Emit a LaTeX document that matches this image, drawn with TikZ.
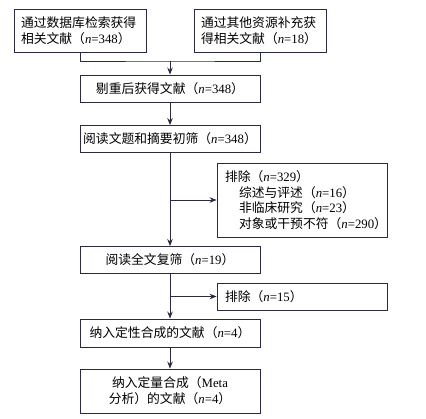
\documentclass[tikz,border=0pt]{standalone}
\usepackage{fontspec}
\setmainfont{Liberation Serif}
\newfontfamily\cjk{Noto Sans CJK SC}
\usetikzlibrary{arrows.meta}
\newcommand\nv[1]{\textit{n}=#1}
\definecolor{lc}{HTML}{2A2A40}
\begin{document}
\begin{tikzpicture}[x=1pt,y=1pt,
  box/.style={draw=lc,line width=0.9pt,inner sep=0pt,minimum width=180pt,minimum height=27pt,font=\fontsize{12.8}{16}\selectfont,align=center},
  conn/.style={draw=lc,line width=0.9pt},
  arr/.style={conn,-{Stealth[length=7pt,width=5.5pt]}}]
\useasboundingbox (0,0) rectangle (426,-418);
\node[box,minimum width=132pt,minimum height=43pt,align=left,text width=118pt] (b1) at (80,-30.5)
  {{\cjk 通过数据库检索获得}\\{\cjk 相关文献（}\nv{348}{\cjk ）}};
\node[box,minimum width=132pt,minimum height=43pt,align=left,text width=118pt] (b2) at (260,-30.5)
  {{\cjk 通过其他资源补充获}\\{\cjk 得相关文献（}\nv{18}{\cjk ）}};
\node[box] (b3) at (170,-88.5) {{\cjk 剔重后获得文献（}\nv{348}{\cjk ）}};
\node[box] (b4) at (170,-139) {{\cjk 阅读文题和摘要初筛（}\nv{348}{\cjk ）}};
\node[box,minimum width=170pt,minimum height=74pt,align=left,text width=154pt,font=\fontsize{12.8}{15.5}\selectfont] (e1) at (302,-200)
  {{\cjk 排除（}\nv{329}{\cjk ）}\\
   \hspace*{14pt}{\cjk 综述与评述（}\nv{16}{\cjk ）}\\
   \hspace*{14pt}{\cjk 非临床研究（}\nv{23}{\cjk ）}\\
   \hspace*{14pt}{\cjk 对象或干预不符（}\nv{290}{\cjk ）}};
\node[box] (b5) at (170,-260) {{\cjk 阅读全文复筛（}\nv{19}{\cjk ）}};
\node[box,minimum width=170pt,align=left,text width=154pt] (e2) at (302,-296.5) {{\cjk 排除（}\nv{15}{\cjk ）}};
\node[box,minimum height=28pt] (b6) at (170,-333) {{\cjk 纳入定性合成的文献（}\nv{4}{\cjk ）}};
\node[box,minimum height=44pt] (b7) at (170,-391) {{\cjk 纳入定量合成（}Meta\\{\cjk 分析）的文献（}\nv{4}{\cjk ）}};
\coordinate (m) at (170,-61);
\draw[conn] (b1.south) |- (m) -| (b2.south);
\draw[arr] (m) -- (b3.north);
\draw[arr] (b3) -- (b4);
\draw[arr] (b4) -- (b5);
\draw[arr] (b4.south |- e1.west) -- (e1.west);
\draw[arr] (b5) -- (b6);
\draw[arr] (b5.south |- e2.west) -- (e2.west);
\draw[arr] (b6) -- (b7);
\end{tikzpicture}
\end{document}
